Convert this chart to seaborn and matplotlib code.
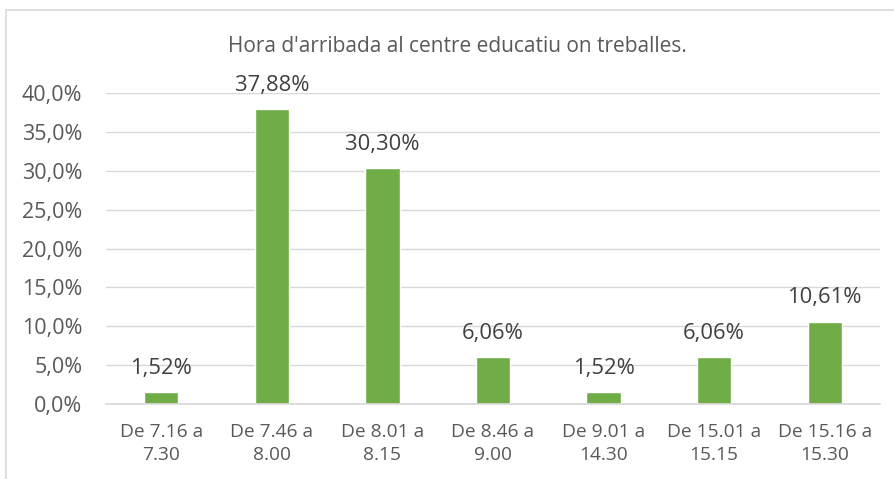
import matplotlib
matplotlib.use("Agg")
import matplotlib.pyplot as plt
import seaborn as sns
import pandas as pd
from matplotlib.patches import Rectangle

categories = ["De 7.16 a\n7.30", "De 7.46 a\n8.00", "De 8.01 a\n8.15", "De 8.46 a\n9.00",
              "De 9.01 a\n14.30", "De 15.01 a\n15.15", "De 15.16 a\n15.30"]
values = [1.52, 37.88, 30.30, 6.06, 1.52, 6.06, 10.61]
title = "Hora d'arribada al centre educatiu on treballes."

sns.set_theme(style="white")
plt.rcParams['font.family'] = ['Open Sans', 'DejaVu Sans']

df = pd.DataFrame({"cat": categories, "val": values})

fig = plt.figure(figsize=(8.95, 4.79), dpi=100)
ax = fig.add_axes([106 / 895, 1 - 404 / 479, (880 - 106) / 895, (404 - 93) / 479])

sns.barplot(data=df, x="cat", y="val", color="#70AD47", width=0.31, saturation=1, ax=ax)

ax.set_ylim(0, 40)
ax.set_yticks([i * 5 for i in range(9)])
ax.set_yticklabels([f"{i * 5:.1f}%".replace(".", ",") for i in range(9)])
ax.yaxis.grid(True, color="#d9d9d9", linewidth=1)
ax.set_axisbelow(True)
for s in ["top", "right", "left"]:
    ax.spines[s].set_visible(False)
ax.spines["bottom"].set_color("#d9d9d9")
ax.set_xlabel("")
ax.set_ylabel("")
ax.tick_params(axis="y", labelsize=15.5, colors="#595959", length=0, pad=17)
ax.tick_params(axis="x", labelsize=13.8, colors="#595959", length=0, pad=14)
for lbl in ax.get_xticklabels():
    lbl.set_linespacing(1.3)

for i, v in enumerate(values):
    ax.annotate(f"{v:.2f}%".replace(".", ","), (i, v), xytext=(0, 17), textcoords="offset points",
                ha="center", va="center", fontsize=15.8, color="#404040")

fig.text(457 / 895, 1 - 47 / 479, title, ha="center", va="center", fontsize=15, color="#595959")

fig.patches.append(Rectangle((6 / 895, -0.1), 1.2, 1 - 10 / 479 + 0.1, transform=fig.transFigure,
                             fill=False, edgecolor="#d9d9d9", linewidth=1.2))

fig.savefig("out.png", dpi=100)
